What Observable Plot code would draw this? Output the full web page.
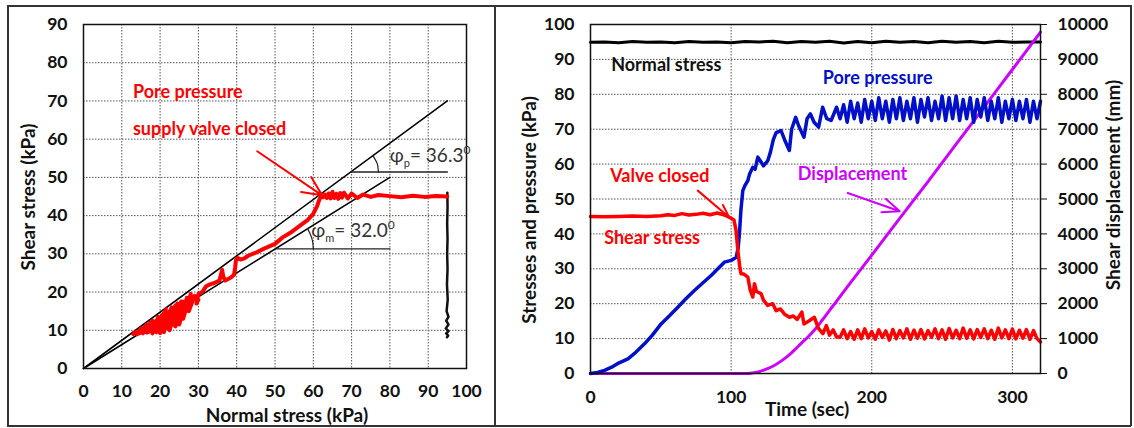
<!DOCTYPE html>
<html><head><meta charset="utf-8">
<script src="https://cdn.jsdelivr.net/npm/d3@7"></script>
<script src="https://cdn.jsdelivr.net/npm/@observablehq/plot@0.6"></script>
<style>
body{margin:0;background:#fff;}
#wrap{position:relative;width:1134px;height:428px;overflow:hidden;background:#fff;}
#left,#right{position:absolute;top:0;}
#left{left:0;} #right{left:480px;}
.ln{position:absolute;background:#333;}
</style></head>
<body><div id="wrap">
<div class="ln" style="left:7px;top:5px;width:1124px;height:1.5px"></div>
<div class="ln" style="left:7px;top:425px;width:1124px;height:1.5px"></div>
<div class="ln" style="left:7px;top:5px;width:1.5px;height:421px"></div>
<div class="ln" style="left:494px;top:5px;width:1.5px;height:421px"></div>
<div class="ln" style="left:1130px;top:5px;width:1.5px;height:421px"></div>
<div id="left"></div><div id="right"></div></div>
<script>
// ---------- Left panel data ----------
const xTicksL = [0,10,20,30,40,50,60,70,80,90,100];
const yTicksL = [0,10,20,30,40,50,60,70,80,90];
const leftNormal = [
  95,92,89,86,83,80,77,75,73,71.5, 70,69,68,67.5,67,66.5,66,65.5,65,64.5, 64,63.5,63,62.5,62,
  61.5,61,60,58.5,56,54,52,50,47,45, 43,42,41,40.3,39.8,39.6,39.3,38.5,37,36.5, 36.2,35.5,34,33,32,31,30,29.5,30,28.5,
  29,27.5,28,26,27,25,26,24,25.5,23.5, 24.5,22.5,24,22,23,21,22.5,20.5,21.5,20, 21,19,20.5,18.5,19.5,18,19,17,18,16.5, 17.5,15.5,16.5,15,16,14.5,15,14,13.5,13];
const leftShear = [
  45,45.1,44.9,45.2,44.8,45.1,45.4,44.9,45.5,44.6, 45.8,44.5,46,44.7,45.9,44.4,45.7,44.6,46.2,44.5, 45.8,44.6,45.5,44.8,45,
  44,42.5,40.5,38.8,37,35.5,34.3,32.6,31.3,30.3, 29.5,28.8,28.5,28.9,28.3,26.5,24.5,23.8,23,24, 25.8,23,22.3,22,21.5,20,19.5,17,18,18.5,
  19,15,19.5,13,18.5,11.5,17.5,11,17.5,11.5, 17,10,16.5,10.5,16,9.5,15,10,15.5,9.3, 14.5,9.5,14,9.8,13.5,9.2,12.5,9.6,12.5,9.4, 12,9.2,11.5,9.4,11,9.2,10.5,9,9.5,9];
const vertX = [95,95.05,94.95,95.05,94.95,95.05,94.9,95.1,94.8,95.3,94.7,95.3,94.6,95.3,94.7,95.2,94.9];
const vertY = [46,42,38,34,30,26,22,18,15,13.5,12.5,11.5,10.5,9.8,9.2,8.6,8.2];
const peakLineX = [0,95], peakLineY = [0,70];
const meanLineX = [0,80], meanLineY = [0,50];
const peakBaseX = [70,95], peakBaseY = [51.4,51.4];
const meanBaseX = [50,80], meanBaseY = [31.3,31.3];
const peakArcX = [77,76.9,76.7,76.2,75.7], peakArcY = [51.4,52.5,53.6,54.6,55.5];
const meanArcX = [60,59.9,59.6,59.1,58.5], meanArcY = [31.3,32.7,34.1,35.4,36.6];

// ---------- Right panel data ----------
const timeTicks = [0,100,200,300];
const stressTicks = [0,10,20,30,40,50,60,70,80,90,100];
const dispTicks = [0,1000,2000,3000,4000,5000,6000,7000,8000,9000,10000];
const oscT = [177.5,180,182.5,185,187.5,190,192.5,195,197.5,200,
  202.5,205,207.5,210,212.5,215,217.5,220,222.5,225,
  227.5,230,232.5,235,237.5,240,242.5,245,247.5,250,
  252.5,255,257.5,260,262.5,265,267.5,270,272.5,275,
  277.5,280,282.5,285,287.5,290,292.5,295,297.5,300,
  302.5,305,307.5,310,312.5,315,317.5,320];
const normT = [0,10,20,30,40,50,60,70,80,90,100,110,120,130,140,150,160,170,180,190,200,210,220,230,240,250,260,270,280,290,300,310,320];
const normV = [94.9,95,94.8,95.1,94.9,95,94.8,95.1,94.9,95,94.8,95.1,95,95.2,94.8,95.1,94.9,95.2,94.7,95.1,94.8,95.2,94.9,95.1,94.8,95.2,94.9,95.1,94.8,95.2,94.9,95,95];
const shearT = [0,10,20,30,40,50,55,60,65,70,75,80,85,90,95,100,102,103.5,104.8,106,107,109,111.9,113.5,115.4,116.6,118,121.3,123,126,129.6,132,135,138,141.5,144,147,150.3,151.8,155,159.2,162,165.2,167.7,170,172.5,175];
const shearV = [45,44.9,45,45.1,45,45.2,45.5,45.3,45.8,45.4,45.6,45.9,45.5,46,45.5,44.5,44,41,35.2,31,28.6,28.5,27.6,24,21.9,25.7,23.5,22.9,21,19.5,20,18,18.5,17,16.1,16.5,15.5,17.6,14.2,15,16.1,13,11.4,13.7,11,12.5,10.5];
const shearOscV = [10.4,12.5,10,12,9.8,12.5,10,12.8,10.2,12,
  9.8,12.5,10.3,12.2,9.6,12.6,10,12.3,10.2,12.8,
  9.8,12.4,10.1,12.6,9.9,12.3,10.4,12.8,10,12.5,
  9.8,12.9,10.2,12.4,10,13,10.1,12.5,9.9,12.6,
  10.3,12.8,10,12.4,9.8,13,10.2,12.5,10,12.7,
  9.9,12.4,10.1,12.6,9.8,12.3,10,9];
const poreT = [0,5,10,15,20,26.6,32,38.4,44,50.2,56,62.1,68,73.9,80,85.8,90,95.2,100,103.6,105,105.9,107,108.3,110,111.9,113,115.4,117,119,121.3,123,126.1,128,130,132,135.5,138,141.4,143,145.9,148,151.8,154,156.3,159,162.2,165.1,168,171.1,175];
const poreV = [0,0.3,0.9,1.8,3,4.2,6,8.5,11,14.2,16.5,19,21.5,23.8,26,28.1,29.8,31.9,32.4,33.3,36,40,47,52.4,54,55.3,57,59.1,58.5,62,60.6,59.5,61,63.5,67,69,69.6,67,63.9,70,73.4,71,67.7,73,74.4,72,70.6,76.3,73,72.5,76.3];
const poreOscV = [73,77,72,78,73,77.5,72,78.5,73,78,
  72.5,79,73,78,72,78.5,73,79,72.5,78,
  73,79,72,78.5,73.5,79,72.5,78,73,79.5,
  72.5,79,73,79.5,72.5,78.5,73,79,72,78.5,
  73.5,79,72.5,78,73,79,72,78,73,78.5,
  72.5,78,73,78.5,72,78,73,78];
const dispT = [0,110,115,120,125,130,135,140,145,150,155,160,165,170,175,180,200,220,240,260,280,300,320];
const dispMm = [0,0,15,55,125,215,340,490,670,870,1060,1280,1540,1810,2070,2340,3390,4450,5500,6570,7640,8710,9780];

// ---------- helpers ----------
const zip = (xs, ys) => xs.map((x, i) => ({x, y: ys[i]}));
const FONT = "Lato, 'Open Sans', sans-serif";
const RED = "#ff0000", BLUE = "#0010c8", MAG = "#cc00ff";
const grid = {stroke: "#555", strokeOpacity: 1, strokeWidth: 1, strokeDasharray: "1.5,1.5"};
const tickFont = {fontSize: 17.5, fontWeight: "bold", fill: "#111"};

// ---------- Left plot ----------
const leftNotes = [
  {x: 12.9, y: 72.3, text: "Pore pressure"},
  {x: 12.9, y: 62.7, text: "supply valve closed"}
];
const leftArrow = [{x1: 45.35, y1: 56.85, x2: 62.3, y2: 45.3}];

const left = Plot.plot({
  width: 480, height: 428,
  marginTop: 24, marginLeft: 83, marginRight: 14, marginBottom: 60,
  x: {domain: [0, 100]}, y: {domain: [0, 90]},
  style: {fontFamily: FONT, fontSize: "17px", fontWeight: "bold", color: "#111", background: "transparent", overflow: "visible"},
  marks: [
    Plot.gridX(xTicksL.slice(1, -1), grid),
    Plot.gridY(yTicksL.slice(1, -1), grid),
    Plot.axisX(xTicksL, {tickSize: 0, tickPadding: 16, label: null, ...tickFont}),
    Plot.axisY(yTicksL, {tickSize: 0, tickPadding: 16, label: null, ...tickFont}),
    Plot.line(zip(peakLineX, peakLineY), {x: "x", y: "y", stroke: "#000", strokeWidth: 1.6}),
    Plot.line(zip(meanLineX, meanLineY), {x: "x", y: "y", stroke: "#000", strokeWidth: 1.6}),
    Plot.line(zip(peakBaseX, peakBaseY), {x: "x", y: "y", stroke: "#222", strokeWidth: 1.4}),
    Plot.line(zip(meanBaseX, meanBaseY), {x: "x", y: "y", stroke: "#222", strokeWidth: 1.4}),
    Plot.line(zip(peakArcX, peakArcY), {x: "x", y: "y", stroke: "#222", strokeWidth: 1.2, curve: "natural"}),
    Plot.line(zip(meanArcX, meanArcY), {x: "x", y: "y", stroke: "#222", strokeWidth: 1.2, curve: "natural"}),
    Plot.line(zip(vertX, vertY), {x: "x", y: "y", stroke: "#111", strokeWidth: 2.5}),
    Plot.line(zip(leftNormal, leftShear), {x: "x", y: "y", stroke: RED, strokeWidth: 4, strokeLinejoin: "round"}),
    Plot.arrow(leftArrow, {x1: "x1", y1: "y1", x2: "x2", y2: "y2", stroke: RED, strokeWidth: 2, headLength: 16, headAngle: 50}),
    Plot.text(leftNotes, {x: "x", y: "y", text: "text", fill: RED, textAnchor: "start", lineAnchor: "middle", fontSize: 18, fontWeight: "bold"}),
    Plot.frame({stroke: "#111", strokeWidth: 1.5})
  ]
});
document.getElementById("left").appendChild(left);

// phi annotations with sub/superscripts, positioned via the plot's scales
function phiLabel(svg, xs, ys, sub, val) {
  const t = d3.select(svg).append("text")
    .attr("x", xs).attr("y", ys).attr("dy", "0.35em").attr("text-anchor", "start")
    .attr("fill", "#333").style("font-weight", "normal").style("font-size", "19px").style("font-family", FONT);
  t.append("tspan").text("φ");
  t.append("tspan").text(sub).attr("dy", 5).style("font-size", "11px");
  t.append("tspan").text("= " + val).attr("dy", -5);
  t.append("tspan").text("0").attr("dy", -8).style("font-size", "12px");
}
const lsx = left.scale("x"), lsy = left.scale("y");
phiLabel(left, lsx.apply(80.1), lsy.apply(55.7), "p", "36.3");
phiLabel(left, lsx.apply(59.6), lsy.apply(36.1), "m", "32.0");

function axisLabel(svg, x, y, text, rotate) {
  d3.select(svg).append("text")
    .attr("transform", `translate(${x},${y})` + (rotate ? " rotate(-90)" : ""))
    .attr("text-anchor", "middle").attr("dy", "0.35em")
    .attr("fill", "#111").style("font-weight", "bold").style("font-size", "19px").style("font-family", FONT)
    .text(text);
}
axisLabel(left, 28, 197, "Shear stress (kPa)", true);
axisLabel(left, 287, 415, "Normal stress (kPa)", false);

// ---------- Right plot ----------
const rightNotes = [
  {x: 14.7, y: 88.3, text: "Normal stress", color: "#111"},
  {x: 165.2, y: 84.5, text: "Pore pressure", color: BLUE},
  {x: 147.4, y: 57, text: "Displacement", color: MAG},
  {x: 14, y: 56.4, text: "Valve closed", color: RED},
  {x: 9.7, y: 38.7, text: "Shear stress", color: RED}
];
const rightArrows = [
  {x1: 76.3, y1: 52.4, x2: 98.6, y2: 44.8, color: RED},
  {x1: 182.9, y1: 51.7, x2: 219.9, y2: 46.5, color: MAG}
];

const right = Plot.plot({
  width: 654, height: 428,
  marginTop: 24, marginLeft: 110, marginRight: 94, marginBottom: 55,
  x: {domain: [0, 320]}, y: {domain: [0, 100]},
  style: {fontFamily: FONT, fontSize: "17px", fontWeight: "bold", color: "#111", background: "transparent", overflow: "visible"},
  marks: [
    Plot.gridX([100, 200, 300], grid),
    Plot.gridY(stressTicks.slice(1, -1), grid),
    Plot.axisX(timeTicks, {tickSize: 0, tickPadding: 17, label: null, ...tickFont}),
    Plot.axisY(stressTicks, {tickSize: 0, tickPadding: 16, label: null, ...tickFont}),
    Plot.axisY(dispTicks.map(d => d / 100), {anchor: "right", tickSize: 6, tickPadding: 11, label: null, tickFormat: d => String(Math.round(d * 100)), ...tickFont}),
    Plot.line(zip(normT, normV), {x: "x", y: "y", stroke: "#000", strokeWidth: 3}),
    Plot.line(zip(dispT, dispMm.map(d => d / 100)), {x: "x", y: "y", stroke: MAG, strokeWidth: 3, curve: "monotone-x"}),
    Plot.line(zip(poreT.concat(oscT), poreV.concat(poreOscV)), {x: "x", y: "y", stroke: BLUE, strokeWidth: 3.5, strokeLinejoin: "round"}),
    Plot.line(zip(shearT.concat(oscT), shearV.concat(shearOscV)), {x: "x", y: "y", stroke: RED, strokeWidth: 3.5, strokeLinejoin: "round"}),
    Plot.arrow(rightArrows, {x1: "x1", y1: "y1", x2: "x2", y2: "y2", stroke: "color", strokeWidth: 2, headLength: 14, headAngle: 45}),
    Plot.text(rightNotes, {x: "x", y: "y", text: "text", fill: "color", textAnchor: "start", lineAnchor: "middle", fontSize: 18, fontWeight: "bold"}),
    Plot.frame({stroke: "#111", strokeWidth: 1.5})
  ]
});
document.getElementById("right").appendChild(right);
axisLabel(right, 49, 210, "Stresses and pressure (kPa)", true);
axisLabel(right, 633, 185, "Shear displacement (mm)", true);
axisLabel(right, 327, 409, "Time (sec)", false);
</script></body></html>
